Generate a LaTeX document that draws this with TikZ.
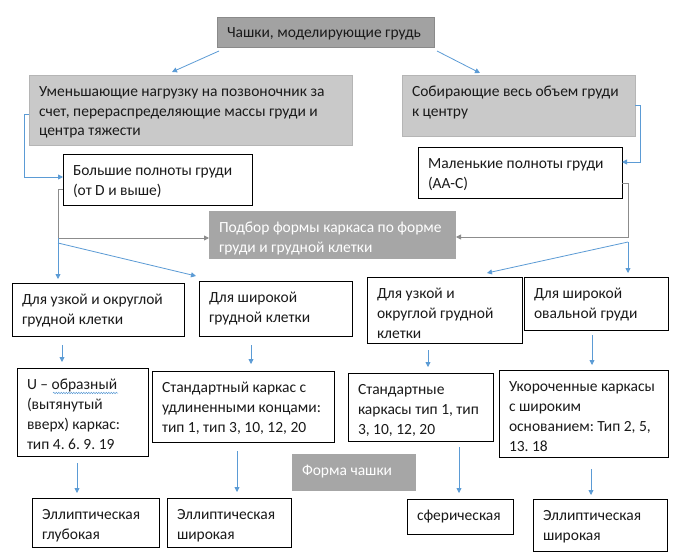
\documentclass[tikz,border=0pt]{standalone}
\usepackage{fontspec}
\setmainfont{Carlito}
\usetikzlibrary{arrows.meta,calc,decorations.pathmorphing}
\definecolor{arrblue}{HTML}{5B9BD5}
\definecolor{lineg}{HTML}{8C8C8C}
\definecolor{topg}{HTML}{A2A2A2}
\definecolor{lightg}{HTML}{C9C9C9}
\definecolor{midg}{HTML}{A6A6A6}
\definecolor{txt}{HTML}{1A1A1A}
\newlength{\bxtop}\setlength{\bxtop}{7pt}
\newcommand{\bx}[7]{%
  \node[#6, anchor=north west, inner sep=0pt, outer sep=0pt] (#1) at (#2,#3)
  {\parbox[c][\dimexpr #5pt-#3pt\relax][t]{\dimexpr #4pt-#2pt\relax}{%
   \vspace*{\bxtop}\leftskip=10pt\rightskip=-40pt plus 1fil\parindent=0pt\frenchspacing\relax\strut #7\par}};}
\tikzset{
  wbox/.style={draw=black, line width=0.9pt, fill=white, text=txt},
  topbox/.style={fill=topg, draw=topg!85!black, line width=0.5pt, text=txt},
  lbox/.style={fill=lightg, draw=lightg!90!black, line width=0.5pt, text=txt},
  mbox/.style={fill=midg, text=white},
  barrow/.style={draw=arrblue, line width=0.8pt, -{Triangle[length=5pt,width=5pt]}},
  garrow/.style={draw=lineg, line width=0.8pt, -{Triangle[length=5pt,width=5pt]}},
  every node/.style={font=\fontsize{15.5}{20}\selectfont}
}
\begin{document}
\begin{tikzpicture}[x=1pt,y=-1pt]
\fill[white] (0,0) rectangle (676,559);
\useasboundingbox (0,0) rectangle (676,559);
\bx{T}{217}{17}{434}{47}{topbox}{Чашки, моделирующие грудь}
\bx{L}{29}{75}{352}{145}{lbox}{Уменьшающие нагрузку на позвоночник за\\счет, перераспределяющие массы груди и\\центра тяжести}
\bx{R}{402}{75}{635}{136}{lbox}{Собирающие весь объем груди\\к центру}
\bx{B}{63}{154}{252}{205}{wbox}{Большие полноты груди\\(от D и выше)}
\bx{M}{418}{147}{622}{198}{wbox}{Маленькие полноты груди\\(АА-С)}
\bx{P}{209}{211}{456}{259}{mbox}{Подбор формы каркаса по форме\\груди и грудной клетки}
\bx{D1}{12}{283}{184}{336}{wbox}{Для узкой и округлой\\грудной клетки}
\bx{D2}{199}{281}{352}{336}{wbox}{Для широкой\\грудной клетки}
\bx{D3}{367}{277}{522}{343}{wbox}{Для узкой и\\округлой грудной\\клетки}
\bx{D4}{524}{277}{668}{330}{wbox}{Для широкой\\овальной груди}
\bx{U}{17}{368}{148}{456}{wbox}{U – образный\\(вытянутый\\вверх) каркас:\\тип 4. 6. 9. 19}
\bx{S1}{152}{371}{334}{442}{wbox}{Стандартный каркас с\\удлиненными концами:\\тип 1, тип 3, 10, 12, 20}
\bx{S2}{348}{373}{493}{441}{wbox}{Стандартные\\каркасы тип 1, тип\\3, 10, 12, 20}
\bx{K}{499}{370}{668}{457}{wbox}{Укороченные каркасы\\с широким\\основанием: Тип 2, 5,\\13. 18}
\bx{F}{292}{454}{416}{491}{mbox}{Форма чашки}
\bx{E1}{32}{498}{159}{547}{wbox}{Эллиптическая\\глубокая}
\bx{E2}{167}{498}{291}{547}{wbox}{Эллиптическая\\широкая}
\bx{Sf}{407}{499}{513}{534}{wbox}{сферическая}
\bx{E3}{533}{499}{667}{551}{wbox}{Эллиптическая\\широкая}
% spell-check underline
\draw[arrblue, line width=0.5pt, decorate, decoration={snake, amplitude=0.7pt, segment length=2.5pt}]
  ($(U.north west)+(36,25)$) -- ($(U.north west)+(101,25)$);
% connectors
\coordinate (jl) at (58,238);
\coordinate (jr) at (628,242);
\draw[barrow] ($(T.south west)+(2,4)$) -- ($(L.north west)+(143,-3)$);
\draw[barrow] ($(T.south east)+(3,4)$) -- ($(R.north west)+(78,-2)$);
\draw[barrow] ($(L.north west)+(0,39)$) -- ++(-5,0) |- ($(B.north west)+(0,23)$);
\draw[barrow] ($(R.north east)+(0,30)$) -- ++(5,0) |- ($(M.north east)+(0,15)$);
\draw[garrow] ($(B.north west)+(0,35)$) -- ++(-5,0) |- ($(P.north west)+(0,27)$);
\draw[garrow] ($(M.north east)+(0,36)$) -- ++(6,0) |- ($(P.north east)+(0,26)$);
\draw[barrow] (jl) -- ($(jl |- D1.north)+(0,-4)$);
\draw[barrow] ($(jl)+(0,5)$) -- ($(D2.north west)+(-3,-5)$);
\draw[barrow] (jr) -- ($(jr |- D4.north)+(0,-4)$);
\draw[barrow] (jr) -- ($(D3.north west)+(120,-4)$);
\draw[barrow] ($(D1.south west)+(50,9)$) -- ($(U.north west)+(45,-6)$);
\draw[barrow] ($(D2.south west)+(52,9)$) -- ($(S1.north west)+(99,-7)$);
\draw[barrow] ($(D3.south west)+(61,7)$) -- ($(S2.north west)+(80,-6)$);
\draw[barrow] ($(D4.south west)+(68,5)$) -- ($(K.north west)+(93,-5)$);
\draw[barrow] ($(U.south west)+(60,7)$) -- ($(E1.north west)+(45,-5)$);
\draw[barrow] ($(S1.south west)+(85,9)$) -- ($(E2.north west)+(70,-6)$);
\draw[barrow] ($(S2.south west)+(111,6)$) -- ($(Sf.north west)+(52,-6)$);
\draw[barrow] ($(K.south west)+(92,12)$) -- ($(E3.north west)+(58,-4)$);
\end{tikzpicture}
\end{document}
